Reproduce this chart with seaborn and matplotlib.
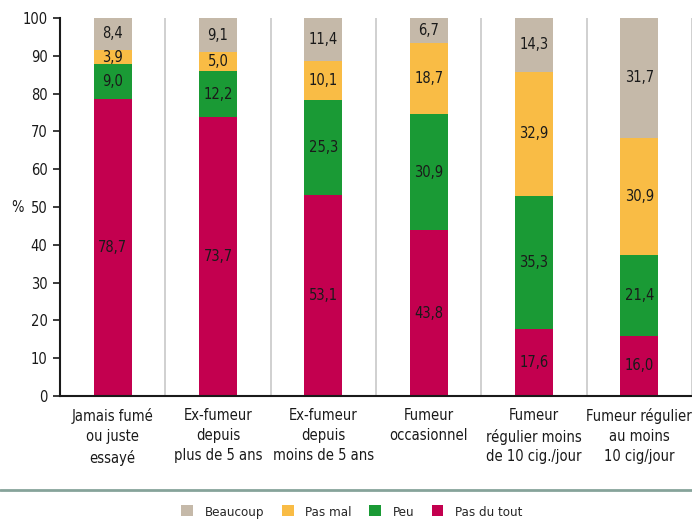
import matplotlib
matplotlib.use("Agg")
import matplotlib.pyplot as plt
from matplotlib.lines import Line2D
from matplotlib.patches import Patch
import seaborn as sns
import pandas as pd
import numpy as np

categories = ["Jamais fumé\nou juste\nessayé", "Ex-fumeur\ndepuis\nplus de 5 ans",
              "Ex-fumeur\ndepuis\nmoins de 5 ans", "Fumeur\noccasionnel",
              "Fumeur\nrégulier moins\nde 10 cig./jour", "Fumeur régulier\nau moins\n10 cig/jour"]
pas_du_tout = [78.7, 73.7, 53.1, 43.8, 17.6, 16.0]
peu = [9.0, 12.2, 25.3, 30.9, 35.3, 21.4]
pas_mal = [3.9, 5.0, 10.1, 18.7, 32.9, 30.9]
beaucoup = [8.4, 9.1, 11.4, 6.7, 14.3, 31.7]
series_names = ["Pas du tout", "Peu", "Pas mal", "Beaucoup"]
colors = {"Pas du tout": "#C3004F", "Peu": "#1A9A35", "Pas mal": "#F9BC45", "Beaucoup": "#C5B9A9"}

sns.set_theme(style="white")
plt.rcParams["font.family"] = ["DejaVu Sans"]
plt.rcParams["font.stretch"] = "condensed"

series = [pas_du_tout, peu, pas_mal, beaucoup]

fig = plt.figure(figsize=(6.92, 5.23), dpi=100)
ax = fig.add_axes([60/692, 1-396/523, 632/692, 378/523])

cum = np.cumsum(np.array(series), axis=0)
for i in range(len(series_names) - 1, -1, -1):
    d = pd.DataFrame({"cat": categories, "v": cum[i]})
    sns.barplot(data=d, x="cat", y="v", color=colors[series_names[i]], width=0.36,
                saturation=1, ax=ax, linewidth=0, order=categories)

for j in range(len(categories)):
    base = 0
    for i, vals in enumerate(series):
        v = vals[j]
        ax.text(j, base + v / 2, f"{v:.1f}".replace(".", ","), ha="center", va="center",
                fontsize=10.5, color="#1a1a1a")
        base += v

for xs in np.arange(0.5, 6.0, 1.0):
    ax.plot([xs, xs], [0, 100], color="#C8C8C8", lw=1.2, zorder=0)

ax.set_xlim(-0.5, 5.5)
ax.set_ylim(0, 100)
ax.set_yticks(range(0, 101, 10))
ax.tick_params(axis="y", left=True, length=5, width=1.2, color="#1a1a1a", labelsize=10.5,
               labelcolor="#1a1a1a", pad=4)
ax.tick_params(axis="x", bottom=False, labelsize=10.5, labelcolor="#1a1a1a", pad=3)
ax.set_xlabel("")
ax.set_ylabel("%", rotation=0, fontsize=10.5, color="#1a1a1a", va="center", ha="center")
ax.yaxis.set_label_coords(-0.068, 0.5)
for s in ["top", "right"]:
    ax.spines[s].set_visible(False)
for s in ["left", "bottom"]:
    ax.spines[s].set_color("#1a1a1a")
    ax.spines[s].set_linewidth(1.5)
for lab in ax.get_xticklabels():
    lab.set_linespacing(1.4)

fig.add_artist(Line2D([0, 1], [1-490/523, 1-490/523], color="#86A39A", lw=2))

handles = [Patch(facecolor=colors[n], edgecolor="none") for n in ["Beaucoup", "Pas mal", "Peu", "Pas du tout"]]
fig.legend(handles, ["Beaucoup", "Pas mal", "Peu", "Pas du tout"], ncol=4, loc="center",
           bbox_to_anchor=(352/692, 1-512/523), frameon=False, fontsize=9.5,
           handlelength=0.9, handleheight=0.9, columnspacing=1.3, handletextpad=0.9)

fig.savefig("out.png", dpi=100)
